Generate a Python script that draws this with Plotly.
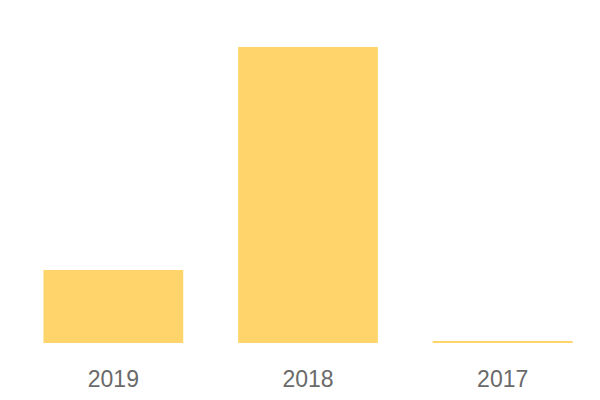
import plotly.graph_objects as go

years = ["2019", "2018", "2017"]
values = [24.7, 100.0, 0.7]

fig = go.Figure(go.Bar(
    x=years, y=values,
    marker=dict(color="#FFD56B", line=dict(width=0)),
    hoverinfo="skip",
))
fig.update_layout(
    width=600, height=400,
    margin=dict(l=16, r=0, t=47, b=57),
    paper_bgcolor="white", plot_bgcolor="white",
    bargap=0.282,
    showlegend=False,
    font=dict(family="Liberation Sans, Arial, sans-serif", color="#666666"),
)
fig.update_xaxes(
    showgrid=False, zeroline=False, showline=False,
    ticks="outside", ticklen=15, tickcolor="rgba(0,0,0,0)",
    tickfont=dict(size=23, color="#6a6a6a"),
)
fig.update_yaxes(
    range=[0, 100], showgrid=False, zeroline=False, showline=False,
    showticklabels=False, ticks="",
)
fig.write_html("out.html", config={"displayModeBar": False},
               post_script="document.body.style.margin='0';")
